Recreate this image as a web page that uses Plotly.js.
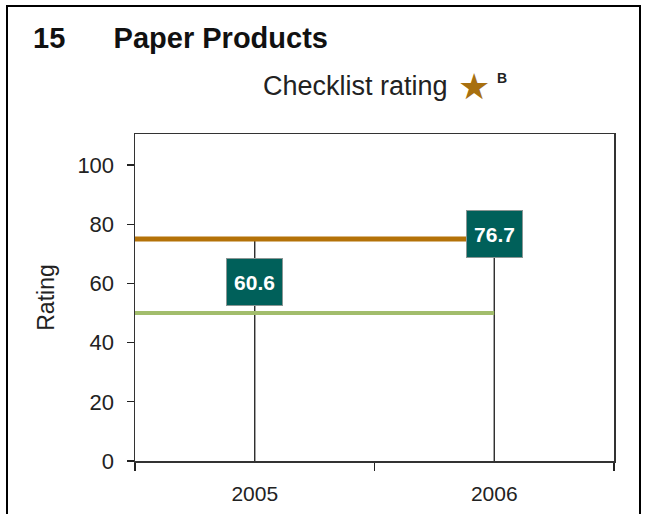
<!DOCTYPE html>
<html>
<head>
<meta charset="utf-8">
<script src="https://cdn.plot.ly/plotly-3.0.1.min.js"></script>
<style>
  html, body { margin: 0; padding: 0; background: #fff; }
  #wrap { position: relative; width: 646px; height: 514px; overflow: hidden; }
  #chart { position: absolute; left: 0; top: 0; width: 646px; height: 514px; }
  #frame { position: absolute; left: 6px; top: 5px; width: 631px; height: 520px;
           border-left: 2px solid #000; border-top: 2px solid #000; border-right: 2px solid #000;
           pointer-events: none; }
</style>
</head>
<body>
<div id="wrap">
  <div id="chart"></div>
  <div id="frame"></div>
</div>
<script>
// ---- data ----
var years = ['2005', '2006'];
var ratings = [60.6, 76.7];
var upperBenchmark = 75;   // orange line
var lowerBenchmark = 50;   // green line
var yTicks = [0, 20, 40, 60, 80, 100];
var chartNumber = '15';
var chartTitle = 'Paper Products';
var ratingLabel = 'Checklist rating';
var ratingGrade = 'B';

var FONT = 'Liberation Sans, Arial, Helvetica, sans-serif';
var idx = years.map(function (d, i) { return i; });
var xMin = -0.5, xMax = years.length - 0.5;

var traces = [];
// stems
idx.forEach(function (i) {
  traces.push({
    x: [i, i],
    y: [0, Math.max(ratings[i], upperBenchmark)],
    mode: 'lines', type: 'scatter',
    line: { color: '#1a1a1a', width: 1.3 },
    hoverinfo: 'skip', showlegend: false
  });
});
// benchmark lines
traces.push({
  x: [xMin, idx[idx.length - 1]], y: [upperBenchmark, upperBenchmark],
  mode: 'lines', type: 'scatter',
  line: { color: '#b47208', width: 5 }, showlegend: false, hoverinfo: 'skip'
});
traces.push({
  x: [xMin, idx[idx.length - 1]], y: [lowerBenchmark, lowerBenchmark],
  mode: 'lines', type: 'scatter',
  line: { color: '#a2bd6c', width: 4 }, showlegend: false, hoverinfo: 'skip'
});

var annotations = idx.map(function (i) {
  return {
    x: i, y: ratings[i], xref: 'x', yref: 'y',
    text: '<b>' + ratings[i].toFixed(1) + '</b>',
    showarrow: false,
    font: { family: FONT, size: 21, color: '#ffffff' },
    bgcolor: '#00605a', bordercolor: '#8a9694', borderwidth: 1, borderpad: 1,
    width: 53, height: 44, xanchor: 'center', yanchor: 'middle', valign: 'middle'
  };
});
annotations.push({
  xref: 'paper', yref: 'paper', x: (261 - 135) / 479, y: (461 - 86) / 327,
  xanchor: 'left', yanchor: 'middle', showarrow: false,
  text: ratingLabel, font: { family: FONT, size: 27, color: '#222' }
});
annotations.push({
  xref: 'paper', yref: 'paper', x: (474 - 135) / 479, y: (461 - 86) / 327,
  xanchor: 'center', yanchor: 'middle', showarrow: false,
  text: '\u2605', font: { family: 'DejaVu Sans, sans-serif', size: 36, color: '#a8700f' }
});
annotations.push({
  xref: 'paper', yref: 'paper', x: (502 - 135) / 479, y: (461 - 78) / 327,
  xanchor: 'center', yanchor: 'middle', showarrow: false,
  text: '<b>' + ratingGrade + '</b>', font: { family: FONT, size: 14, color: '#222' }
});

var layout = {
  width: 646, height: 514,
  margin: { l: 135, r: 32, t: 134, b: 53 },
  paper_bgcolor: '#ffffff', plot_bgcolor: '#ffffff',
  showlegend: false,
  title: {
    text: '<b>' + chartNumber + '\u00a0\u00a0\u00a0\u00a0\u00a0\u00a0' + chartTitle + '</b>',
    xref: 'container', yref: 'container',
    x: 33 / 646, xanchor: 'left', y: 1 - 38 / 514, yanchor: 'middle',
    font: { family: FONT, size: 29, color: '#111' }
  },
  xaxis: {
    range: [xMin, xMax],
    tickmode: 'array', tickvals: idx, ticktext: years,
    ticks: '', ticklabelstandoff: 13,
    minor: { tickmode: 'linear', tick0: xMin, dtick: 1, ticks: 'outside', ticklen: 8, tickwidth: 1.3, tickcolor: '#222' },
    showline: true, mirror: true, linecolor: '#333', linewidth: 1.5,
    showgrid: false, zeroline: false,
    tickfont: { family: FONT, size: 21, color: '#222' }
  },
  yaxis: {
    range: [0, 110.5],
    tickmode: 'array', tickvals: yTicks,
    ticks: 'outside', ticklen: 7, tickwidth: 1.3, tickcolor: '#222',
    ticklabelstandoff: 8,
    showline: true, mirror: true, linecolor: '#333', linewidth: 1.5,
    showgrid: false, zeroline: false,
    tickfont: { family: FONT, size: 22, color: '#222' },
    title: { text: 'Rating', standoff: 16, font: { family: FONT, size: 23, color: '#222' } }
  },
  annotations: annotations
};

Plotly.newPlot('chart', traces, layout, { displayModeBar: false, staticPlot: true });
</script>
</body>
</html>
